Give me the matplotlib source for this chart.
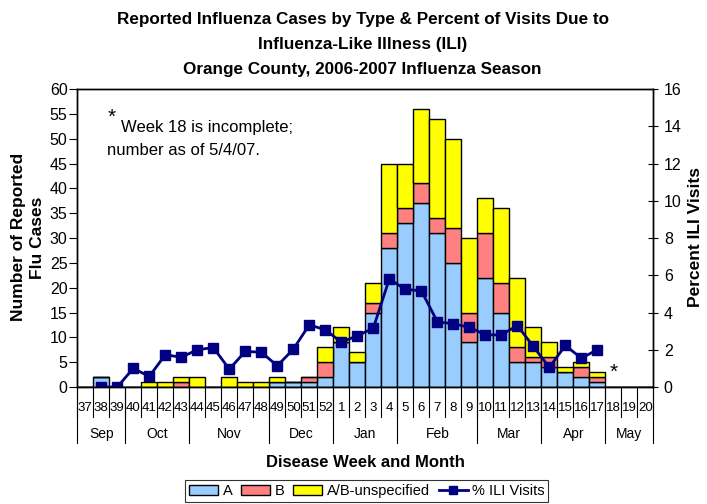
#!/usr/bin/env python3
''' Flu cases by type with % ILI visits, Orange County 2006-2007. '''
import numpy as np
import matplotlib
matplotlib.use('Agg')
import matplotlib.pyplot as plt
from matplotlib.lines import Line2D
from matplotlib.patches import Patch

plt.rcParams['font.family'] = ['Liberation Sans', 'DejaVu Sans']

weeks = ['37', '38', '39', '40', '41', '42', '43', '44', '45', '46', '47', '48',
         '49', '50', '51', '52', '1', '2', '3', '4', '5', '6', '7', '8', '9',
         '10', '11', '12', '13', '14', '15', '16', '17', '18', '19', '20']
type_a = [0, 2, 0, 0, 0, 0, 0, 0, 0, 0, 0, 0,
          1, 1, 1, 2, 9, 5, 15, 28, 33, 37, 31, 25, 9,
          22, 15, 5, 5, 4, 3, 2, 1, 0, 0, 0]
type_b = [0, 0, 0, 0, 0, 0, 1, 0, 0, 0, 0, 0,
          0, 0, 1, 3, 0, 0, 2, 3, 3, 4, 3, 7, 6,
          9, 6, 3, 1, 2, 0, 2, 1, 0, 0, 0]
type_u = [0, 0, 0, 0, 1, 1, 1, 2, 0, 2, 1, 1,
          1, 0, 0, 3, 3, 2, 4, 14, 9, 15, 20, 18, 15,
          7, 15, 14, 6, 3, 1, 1, 1, 0, 0, 0]
ili_pct = [np.nan, 0.0, 0.0, 1.0, 0.57, 1.73, 1.6, 2.0, 2.12, 0.96, 1.91, 1.87,
           1.14, 2.03, 3.34, 3.07, 2.41, 2.75, 3.16, 5.8, 5.24, 5.17, 3.51, 3.39, 3.21,
           2.8, 2.8, 3.3, 2.18, 1.05, 2.23, 1.55, 2.0, np.nan, np.nan, np.nan]
months = ['Sep', 'Oct', 'Nov', 'Dec', 'Jan', 'Feb', 'Mar', 'Apr', 'May']
weeks_per_month = [3, 4, 5, 4, 4, 5, 4, 4, 3]

col_a = '#99CCFF'
col_b = '#FF8080'
col_u = '#FFFF00'
col_ili = '#000080'


def main():
  fig = plt.figure(figsize=(7.07, 5.04), dpi=100)
  ax = fig.add_axes([0.1093, 0.2321, 0.8148, 0.5913])
  ax2 = ax.twinx()

  x = np.arange(len(weeks))
  a = np.array(type_a)
  b = np.array(type_b)
  u = np.array(type_u)
  kw = dict(width=1.0, edgecolor='black', linewidth=1.0)
  ax.bar(x, a, color=col_a, **kw)
  ax.bar(x, b, bottom=a, color=col_b, **kw)
  ax.bar(x, u, bottom=a + b, color=col_u, **kw)

  ax2.plot(x, ili_pct, color=col_ili, linewidth=2, marker='s', markersize=7)

  ax.set_xlim(-0.5, len(weeks) - 0.5)
  ax.set_ylim(0, 60)
  ax.set_yticks(range(0, 61, 5))
  ax2.set_ylim(0, 16)
  ax2.set_yticks(range(0, 17, 2))
  ax.set_xticks([])
  ax.tick_params(axis='y', direction='out', length=6, labelsize=11.5, pad=1)
  ax2.tick_params(axis='y', direction='inout', length=7, labelsize=11.5, pad=4)
  for a_ in (ax, ax2):
    for s in a_.spines.values():
      s.set_linewidth(1.0)

  # Two-level category axis: week numbers and months.
  trans = ax.get_xaxis_transform()
  for i, w in enumerate(weeks):
    ax.text(i, -0.0705, w, transform=trans, ha='center', va='center', fontsize=9.5)
  for i in range(len(weeks) + 1):
    ax.plot([i - 0.5, i - 0.5], [0, -0.0997], transform=trans, color='black',
            linewidth=0.8, clip_on=False)
  start = 0
  for m, n in zip(months, weeks_per_month):
    ax.plot([start - 0.5, start - 0.5], [0, -0.1876], transform=trans, color='black',
            linewidth=0.8, clip_on=False)
    ax.text(start + n / 2 - 0.5, -0.1583, m, transform=trans, ha='center', va='center',
            fontsize=10)
    start += n
  ax.plot([start - 0.5, start - 0.5], [0, -0.1876], transform=trans, color='black',
          linewidth=0.8, clip_on=False)

  ax.text(0.5, -0.254, 'Disease Week and Month', transform=ax.transAxes, ha='center',
          va='center', fontsize=12, fontweight='bold')
  fig.text(0.040, 0.529, 'Number of Reported\nFlu Cases', rotation=90, ha='center',
           va='center', fontsize=12.5, fontweight='bold', linespacing=1.35)
  fig.text(0.984, 0.530, 'Percent ILI Visits', rotation=90, ha='center', va='center',
           fontsize=12.5, fontweight='bold')

  fig.text(0.513, 0.977, 'Reported Influenza Cases by Type & Percent of Visits Due to\n'
           'Influenza-Like Illness (ILI)\n'
           'Orange County, 2006-2007 Influenza Season',
           ha='center', va='top', fontsize=12.3, fontweight='bold', linespacing=1.85)

  ax.text(0.052, 0.905, '*', transform=ax.transAxes, fontsize=15, va='center')
  ax.text(0.076, 0.872, 'Week 18 is incomplete;', transform=ax.transAxes,
          fontsize=12, va='center')
  ax.text(0.051, 0.795, 'number as of 5/4/07.', transform=ax.transAxes,
          fontsize=12, va='center')
  ax.text(33, 3.0, '*', fontsize=15, ha='center', va='center')

  handles = [Patch(facecolor=col_a, edgecolor='black', label='A'),
             Patch(facecolor=col_b, edgecolor='black', label='B'),
             Patch(facecolor=col_u, edgecolor='black', label='A/B-unspecified'),
             Line2D([], [], color=col_ili, linewidth=2, marker='s', markersize=6,
                    label='% ILI Visits')]
  leg = fig.legend(handles=handles, loc='center', bbox_to_anchor=(0.519, 0.026),
                   ncol=4, fontsize=10.5, frameon=True, fancybox=False,
                   handlelength=2.0, handletextpad=0.3, columnspacing=0.6,
                   borderpad=0.25, edgecolor='black')
  leg.get_frame().set_linewidth(0.8)

  fig.savefig('out.png', dpi=100)


if __name__ == '__main__':
  main()
